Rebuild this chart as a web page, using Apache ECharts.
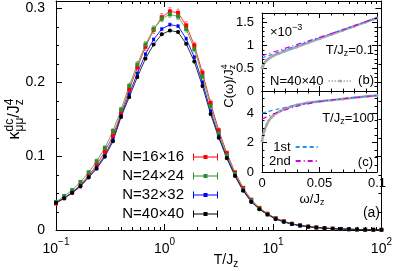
<!DOCTYPE html>
<html><head><meta charset="utf-8">
<script src="https://cdn.jsdelivr.net/npm/echarts@6/dist/echarts.min.js"></script>
<style>html,body{margin:0;padding:0;background:#fff}#c{width:395px;height:271px}</style>
</head><body><div id="c"></div>
<script>
// ---------- data ----------
const T = [0.1,0.119,0.141,0.168,0.2,0.237,0.282,0.335,0.398,0.473,0.562,0.668,0.794,0.944,1.122,1.334,1.585,1.884,2.239,2.661,3.162,3.758,4.467,5.309,6.31,7.499,8.913,10.59,12.59,14.96,17.78,21.13,25.12,29.85,35.48,42.17,50.12,59.57,70.79,84.14,100];
const k16 = [0.036,0.043,0.051,0.061,0.074,0.088,0.106,0.128,0.158,0.190,0.220,0.248,0.271,0.288,0.296,0.294,0.277,0.250,0.213,0.172,0.135,0.104,0.078,0.057,0.041,0.030,0.022,0.016,0.012,0.0085,0.0063,0.0047,0.0035,0.0026,0.0019,0.0014,0.0010,0.0007,0.0005,0.0004,0.0003];
const k24 = [0.038,0.046,0.054,0.065,0.078,0.093,0.111,0.134,0.163,0.195,0.224,0.251,0.272,0.286,0.292,0.289,0.272,0.245,0.208,0.168,0.131,0.101,0.076,0.055,0.040,0.029,0.021,0.0155,0.0115,0.0083,0.0061,0.0046,0.0034,0.0025,0.0018,0.0013,0.0010,0.0007,0.0005,0.0004,0.0003];
const k32 = [0.037,0.043,0.051,0.060,0.072,0.085,0.101,0.123,0.155,0.184,0.212,0.238,0.258,0.272,0.278,0.276,0.259,0.234,0.200,0.161,0.127,0.098,0.074,0.054,0.039,0.028,0.021,0.015,0.011,0.008,0.006,0.0045,0.0033,0.0025,0.0018,0.0013,0.0010,0.0007,0.0005,0.0004,0.0003];
const k40 = [0.037,0.043,0.050,0.059,0.071,0.083,0.099,0.120,0.153,0.180,0.207,0.232,0.251,0.265,0.270,0.268,0.252,0.228,0.195,0.157,0.125,0.097,0.073,0.053,0.038,0.028,0.021,0.015,0.011,0.008,0.006,0.0045,0.0033,0.0025,0.0018,0.0013,0.0010,0.0007,0.0005,0.0004,0.0003];
const e16 = [0.002,0.002,0.002,0.002,0.003,0.003,0.003,0.003,0.004,0.004,0.004,0.005,0.005,0.005,0.005,0.005,0.005,0.004,0.004,0.004,0.003,0.003,0.002,0.002,0.002,0.001,0.001,0.001,0.001,0.001,0.0005,0.0005,0.0005,0.0005,0.0005,0.0005,0.0005,0.0005,0.0005,0.0005,0.0005];
const e24 = [0.002,0.002,0.002,0.002,0.002,0.003,0.003,0.003,0.003,0.004,0.004,0.004,0.004,0.004,0.004,0.004,0.004,0.004,0.003,0.003,0.003,0.002,0.002,0.002,0.001,0.001,0.001,0.001,0.001,0.0005,0.0005,0.0005,0.0005,0.0005,0.0005,0.0005,0.0005,0.0005,0.0005,0.0005,0.0005];
const e32 = [0.001,0.001,0.001,0.001,0.001,0.001,0.0015,0.0015,0.0015,0.002,0.002,0.002,0.002,0.002,0.002,0.002,0.002,0.002,0.002,0.0015,0.0015,0.0015,0.001,0.001,0.001,0.001,0.0005,0.0005,0.0005,0.0005,0.0005,0.0005,0.0005,0.0005,0.0005,0.0005,0.0005,0.0005,0.0005,0.0005,0.0005];
const e40 = [0.001,0.001,0.001,0.001,0.001,0.001,0.001,0.001,0.0015,0.0015,0.0015,0.0015,0.0015,0.0015,0.0015,0.0015,0.0015,0.0015,0.0015,0.0015,0.001,0.001,0.001,0.001,0.001,0.001,0.0005,0.0005,0.0005,0.0005,0.0005,0.0005,0.0005,0.0005,0.0005,0.0005,0.0005,0.0005,0.0005,0.0005,0.0005];

const omegaData = [0,0.001,0.002,0.004,0.006,0.008,0.01,0.015,0.02,0.03,0.04,0.05,0.06,0.07,0.08,0.09,0.1];
const cLowT  = [0.50,0.56,0.61,0.67,0.71,0.74,0.77,0.82,0.87,0.96,1.05,1.14,1.23,1.32,1.41,1.50,1.59];
const cHighT = [2.1,2.5,2.8,3.2,3.5,3.7,3.85,4.1,4.3,4.55,4.7,4.8,4.88,4.96,5.04,5.12,5.2];
const omegaFit = [0,0.01,0.02,0.03,0.04,0.05,0.06,0.07,0.08,0.09,0.1];
const fit1Low  = [0.72,0.81,0.90,0.98,1.07,1.16,1.25,1.34,1.42,1.51,1.60];
const fit2Low  = [0.77,0.85,0.93,1.01,1.09,1.17,1.25,1.33,1.42,1.51,1.60];
const fit1High = [4.0,4.2,4.38,4.55,4.68,4.8,4.89,4.97,5.05,5.12,5.2];
const fit2High = [3.6,3.95,4.22,4.45,4.63,4.77,4.88,4.97,5.05,5.12,5.19];

const mainDecades = [0.1, 1, 10];           // minor log ticks 2..9 in each
const mainYMajor = [0, 0.1, 0.2, 0.3];
const insetXMajor = [0, 0.05, 0.1];
const insetBYMajor = [0, 0.5, 1, 1.5];
const insetCYMajor = [0, 2, 4];

// ---------- helpers ----------
const FF = '"Liberation Sans", Arial, Helvetica, sans-serif';
const mctx = document.createElement('canvas').getContext('2d');
function tw(t, s) { mctx.font = s + 'px ' + FF; return mctx.measureText(t).width; }
function txt(t, x, y, s) {
  return {type:'text', x:x, y:y, style:{text:t, font:s+'px '+FF, fill:'#000',
    textAlign:'left', textVerticalAlign:'middle', align:'left', verticalAlign:'middle'}};
}
function scriptText(parts, size, x, y, anchor, rot) {
  const ss = Math.round(size*0.72), up = -size*0.36, dn = size*0.3;
  const kids = []; let cx = 0;
  parts.forEach(p => {
    if (typeof p === 'string') { kids.push(txt(p, cx, 0, size)); cx += tw(p, size); }
    else {
      let w = 0;
      if (p.u) { kids.push(txt(p.u, cx, up, ss)); w = Math.max(w, tw(p.u, ss)); }
      if (p.d) { kids.push(txt(p.d, cx, dn, ss)); w = Math.max(w, tw(p.d, ss)); }
      cx += w;
    }
  });
  const off = anchor === 'center' ? -cx/2 : anchor === 'right' ? -cx : 0;
  kids.forEach(k => { k.x += off; });
  return {type:'group', x:x, y:y, rotation:rot||0, children:kids, silent:true, z:100};
}
function subdivide(major, n) {
  const out = [];
  for (let i = 0; i < major.length-1; i++) {
    const a = major[i], b = major[i+1], step = (b-a)/n;
    for (let j = 1; j < n; j++) out.push(+(a + j*step).toFixed(6));
  }
  return out;
}
function logMinor(decades) {
  const out = [];
  decades.forEach(d => { for (let m = 2; m <= 9; m++) out.push(+(d*m).toPrecision(3)); });
  return out;
}
function tickSeries(xi, yi, data, orient, len) {
  return {type:'custom', xAxisIndex:xi, yAxisIndex:yi, silent:true, z:20, clip:false,
    data:data, encode:{x:0, y:1},
    renderItem:function(params, api) {
      const cs = params.coordSys;
      const p = api.coord([api.value(0), api.value(1)]);
      const st = {stroke:'#000', lineWidth:1};
      if (orient === 'x') {
        const x = Math.round(p[0]) + 0.5, yb = cs.y + cs.height, yt = cs.y;
        return {type:'group', children:[
          {type:'line', shape:{x1:x, y1:yb, x2:x, y2:yb-len}, style:st},
          {type:'line', shape:{x1:x, y1:yt, x2:x, y2:yt+len}, style:st}]};
      } else {
        const y = Math.round(p[1]) + 0.5, xl = cs.x, xr = cs.x + cs.width;
        return {type:'group', children:[
          {type:'line', shape:{x1:xl, y1:y, x2:xl+len, y2:y}, style:st},
          {type:'line', shape:{x1:xr, y1:y, x2:xr-len, y2:y}, style:st}]};
      }
    }};
}
function errSeries(tv, vv, ev, color) {
  return {type:'custom', xAxisIndex:0, yAxisIndex:0, silent:true, z:2,
    data: tv.map((t,i) => [t, vv[i], ev[i]]), encode:{x:0, y:1},
    renderItem:function(params, api) {
      const x = api.value(0), v = api.value(1), e = api.value(2);
      const a = api.coord([x, v+e]), b = api.coord([x, v-e]);
      const st = {stroke:color, lineWidth:1};
      return {type:'group', children:[
        {type:'line', shape:{x1:a[0], y1:a[1], x2:b[0], y2:b[1]}, style:st},
        {type:'line', shape:{x1:a[0]-1.5, y1:a[1], x2:a[0]+1.5, y2:a[1]}, style:st},
        {type:'line', shape:{x1:b[0]-1.5, y1:b[1], x2:b[0]+1.5, y2:b[1]}, style:st}]};
    }};
}
function pairs(xs, ys) { return xs.map((x,i) => [x, ys[i]]); }

const axisCommon = {
  axisLine:{show:true, onZero:false, lineStyle:{color:'#000', width:1}},
  splitLine:{show:false}
};
function mk(o) { return Object.assign({}, JSON.parse(JSON.stringify(axisCommon)), o); }
const tickMain = {show:true, inside:true, length:6, lineStyle:{color:'#000', width:1}};
const tickInset = {show:true, inside:true, length:5, lineStyle:{color:'#000', width:1}};
const logFmt = v => { const e = Math.round(Math.log10(v)); return '{b|10}{s|' + (e < 0 ? '\u2212' + (-e) : e) + '}'; };

const errIcon = 'path://M0,3h25v1h-25z M0,0h1v7h-1z M24,0h1v7h-1z M10.5,1.5h4v4h-4z';

const option = {
  animation:false,
  backgroundColor:'#fff',
  textStyle:{fontFamily:FF},
  grid:[
    {left:56, top:1, right:11, bottom:41},
    {left:262, top:13, right:18, height:78},
    {left:262, top:91, right:18, height:81}
  ],
  xAxis:[
    mk({type:'log', gridIndex:0, min:0.1, max:100, logBase:10, splitNumber:3, axisTick:tickMain,
      axisLabel:{formatter:logFmt, margin:7, color:'#000',
        rich:{b:{fontSize:14, fontFamily:FF, color:'#000', padding:[5,0,0,0], verticalAlign:'bottom'},
              s:{fontSize:10, fontFamily:FF, color:'#000', verticalAlign:'top'}}}}),
    mk({type:'log', gridIndex:0, position:'top', min:0.1, max:100, logBase:10, splitNumber:3, axisTick:tickMain, axisLabel:{show:false}}),
    mk({type:'value', gridIndex:1, min:0, max:0.1, interval:0.05, axisTick:tickInset, axisLabel:{show:false}}),
    mk({type:'value', gridIndex:1, position:'top', min:0, max:0.1, interval:0.05, axisTick:tickInset, axisLabel:{show:false}}),
    mk({type:'value', gridIndex:2, min:0, max:0.1, interval:0.05, axisTick:tickInset,
      axisLabel:{fontSize:13, color:'#000', margin:5, fontFamily:FF}}),
    mk({type:'value', gridIndex:2, position:'top', min:0, max:0.1, interval:0.05, axisTick:tickInset, axisLabel:{show:false}})
  ],
  yAxis:[
    mk({type:'value', gridIndex:0, min:0, max:0.31, interval:0.1, axisTick:tickMain,
      axisLabel:{fontSize:14, color:'#000', margin:11, showMaxLabel:false, fontFamily:FF}}),
    mk({type:'value', gridIndex:0, position:'right', min:0, max:0.31, interval:0.1, axisTick:tickMain, axisLabel:{show:false}}),
    mk({type:'value', gridIndex:1, min:0, max:1.7, interval:0.5, axisTick:tickInset,
      axisLabel:{fontSize:13, color:'#000', margin:8, showMaxLabel:false, fontFamily:FF}}),
    mk({type:'value', gridIndex:1, position:'right', min:0, max:1.7, interval:0.5, axisTick:tickInset, axisLabel:{show:false}}),
    mk({type:'value', gridIndex:2, min:0, max:5.5, interval:2, axisTick:tickInset,
      axisLabel:{fontSize:13, color:'#000', margin:8, showMaxLabel:false, fontFamily:FF}}),
    mk({type:'value', gridIndex:2, position:'right', min:0, max:5.5, interval:2, axisTick:tickInset, axisLabel:{show:false}})
  ],
  legend:[
    {orient:'vertical', right:177, top:149, padding:0, align:'right', itemWidth:25, itemHeight:7, itemGap:3,
      selectedMode:false, textStyle:{fontSize:15, fontFamily:FF, color:'#000', lineHeight:16, padding:[0,4,0,0]},
      data:[{name:'N=16×16', icon:errIcon},{name:'N=24×24', icon:errIcon},{name:'N=32×32', icon:errIcon},{name:'N=40×40', icon:errIcon}]},
    {orient:'vertical', left:270, top:74, padding:0, align:'right', itemWidth:24, itemHeight:4,
      selectedMode:false, formatter:() => 'N=40×40', textStyle:{fontSize:13, fontFamily:FF, color:'#000', lineHeight:14},
      data:[{name:'insetData', lineStyle:{type:'dotted', width:1.5}}]},
    {orient:'vertical', left:269, top:140, padding:0, align:'right', itemWidth:22, itemHeight:8, itemGap:0,
      selectedMode:false, textStyle:{fontSize:13, fontFamily:FF, color:'#000', lineHeight:14},
      data:[{name:'1st', itemStyle:{opacity:0}},{name:'2nd', itemStyle:{opacity:0}}]}
  ],
  graphic: [
    scriptText(['κ', {u:'dc', d:'μμ'}, '/J', {u:'4', d:'z'}], 16, 15, 119, 'center', Math.PI/2),
    scriptText(['T/J', {d:'z'}], 14, 226, 260, 'center'),
    scriptText(['C(ω)/J', {u:'4', d:'z'}], 13, 229, 86, 'center', Math.PI/2),
    scriptText(['ω/J', {d:'z'}], 13, 312, 199, 'center'),
    scriptText(['×10', {u:'\u22123'}], 13, 270, 32, 'left'),
    scriptText(['T/J', {d:'z'}, '=0.1'], 13, 374, 50, 'right'),
    scriptText(['T/J', {d:'z'}, '=100'], 13, 374, 118, 'right'),
    scriptText(['(a)'], 14, 380, 213, 'right'),
    scriptText(['(b)'], 13, 374, 80, 'right'),
    scriptText(['(c)'], 13, 373, 162, 'right')
  ],
  series:[
    errSeries(T, k16, e16, '#ff8080'),
    errSeries(T, k24, e24, '#80c080'),
    errSeries(T, k32, e32, '#8080ff'),
    errSeries(T, k40, e40, '#808080'),
    {name:'N=16×16', type:'line', xAxisIndex:0, yAxisIndex:0, data:pairs(T,k16), symbol:'rect', symbolSize:4,
      itemStyle:{color:'#ff0000'}, lineStyle:{color:'#ff3030', width:1}, z:3},
    {name:'N=24×24', type:'line', xAxisIndex:0, yAxisIndex:0, data:pairs(T,k24), symbol:'rect', symbolSize:4,
      itemStyle:{color:'#2e8b2e'}, lineStyle:{color:'#60b060', width:1}, z:3},
    {name:'N=32×32', type:'line', xAxisIndex:0, yAxisIndex:0, data:pairs(T,k32), symbol:'rect', symbolSize:3,
      itemStyle:{color:'#0000ff'}, lineStyle:{color:'#2020ff', width:1}, z:3},
    {name:'N=40×40', type:'line', xAxisIndex:0, yAxisIndex:0, data:pairs(T,k40), symbol:'circle', symbolSize:4,
      itemStyle:{color:'#000000'}, lineStyle:{color:'#303030', width:1}, z:3},
    {name:'insetData', type:'line', xAxisIndex:2, yAxisIndex:2, data:pairs(omegaData,cLowT), symbol:'circle', symbolSize:3,
      itemStyle:{color:'#a8a8a8'}, lineStyle:{color:'#a8a8a8', width:2.5}, z:3},
    {name:'insetData', type:'line', xAxisIndex:4, yAxisIndex:4, data:pairs(omegaData,cHighT), symbol:'circle', symbolSize:3,
      itemStyle:{color:'#a8a8a8'}, lineStyle:{color:'#a8a8a8', width:2.5}, z:3},
    {name:'1st', type:'line', xAxisIndex:2, yAxisIndex:2, data:pairs(omegaFit,fit1Low), symbol:'none',
      itemStyle:{color:'#1e90ff'}, lineStyle:{color:'#1e90ff', width:1.2, type:[4,3]}, z:4},
    {name:'2nd', type:'line', xAxisIndex:2, yAxisIndex:2, data:pairs(omegaFit,fit2Low), symbol:'none', smooth:true,
      itemStyle:{color:'#d000e0'}, lineStyle:{color:'#d000e0', width:1.2, type:[5,3,1,3]}, z:4},
    {name:'1st', type:'line', xAxisIndex:4, yAxisIndex:4, data:pairs(omegaFit,fit1High), symbol:'none', smooth:true,
      itemStyle:{color:'#1e90ff'}, lineStyle:{color:'#1e90ff', width:1.2, type:[4,3]}, z:4},
    {name:'2nd', type:'line', xAxisIndex:4, yAxisIndex:4, data:pairs(omegaFit,fit2High), symbol:'none', smooth:true,
      itemStyle:{color:'#d000e0'}, lineStyle:{color:'#d000e0', width:1.2, type:[5,3,1,3]}, z:4},
    tickSeries(0, 0, logMinor(mainDecades).map(v => [v, 0]), 'x', 3),
    tickSeries(0, 0, subdivide(mainYMajor, 4).map(v => [0.1, v]), 'y', 3),
    tickSeries(2, 2, subdivide(insetXMajor, 5).map(v => [v, 0]), 'x', 2.5),
    tickSeries(2, 2, subdivide(insetBYMajor, 5).concat([1.6]).map(v => [0, v]), 'y', 2.5),
    tickSeries(4, 4, subdivide(insetXMajor, 5).map(v => [v, 0]), 'x', 2.5),
    tickSeries(4, 4, subdivide(insetCYMajor, 4).concat([4.5, 5]).map(v => [0, v]), 'y', 2.5)
  ]
};
const chart = echarts.init(document.getElementById('c'), null, {renderer:'canvas'});
chart.setOption(option);
</script>
</body></html>
